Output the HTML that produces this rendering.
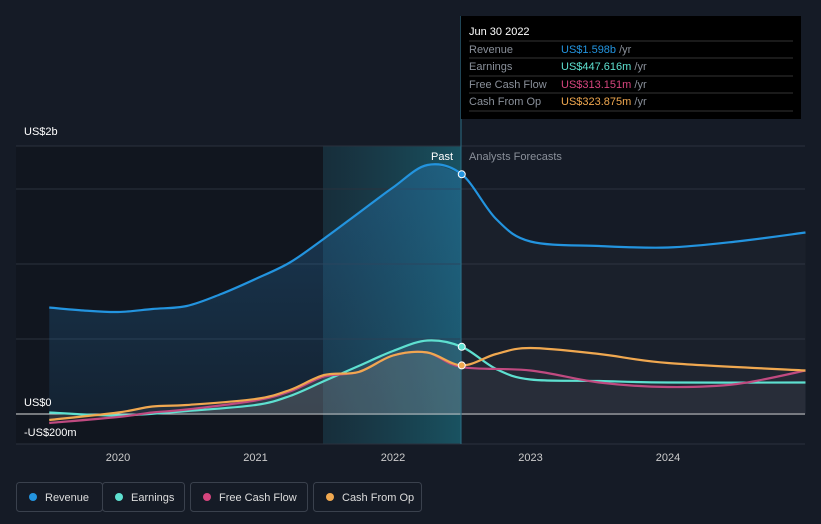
<!DOCTYPE html>
<html><head><meta charset="utf-8"><style>
body{margin:0;background:#151b26;font-family:"Liberation Sans",sans-serif;}
svg{display:block}
</style></head><body>
<svg width="821" height="524">
<defs>
<linearGradient id="hl" x1="0" y1="0" x2="1" y2="0"><stop offset="0" stop-color="#1a4a5a" stop-opacity="0.4"/><stop offset="1" stop-color="#1b6a7a" stop-opacity="0.7"/></linearGradient>
<linearGradient id="rf" x1="0" y1="0" x2="0" y2="1"><stop offset="0" stop-color="#2a7fbf" stop-opacity="0.35"/><stop offset="1" stop-color="#2a7fbf" stop-opacity="0.12"/></linearGradient>
</defs>
<rect x="16" y="146" width="307" height="298" fill="#11161f"/>
<rect x="323" y="146" width="138" height="298" fill="url(#hl)"/>
<g id="grid"></g>
<g id="fills"></g>
<g id="lines"></g>
<line x1="461" y1="16" x2="461" y2="444" stroke="#2a6f85" stroke-width="1"/>
<text x="453" y="160" fill="#fff" font-size="11" text-anchor="end">Past</text>
<text x="469" y="160" fill="#8a909a" font-size="11">Analysts Forecasts</text>
<text x="24" y="135" fill="#fff" font-size="11">US$2b</text>
<text x="24" y="406" fill="#fff" font-size="11">US$0</text>
<text x="24" y="436" fill="#fff" font-size="11">-US$200m</text>
<g id="xt"></g>
<g id="dots"></g>
<g>
<rect x="461" y="16" width="340" height="103" fill="#000"/>
<text x="469" y="35" fill="#fff" font-size="11">Jun 30 2022</text>
<g stroke="#333" stroke-width="1"><line x1="469" x2="793" y1="41" y2="41"/><line x1="469" x2="793" y1="58" y2="58"/><line x1="469" x2="793" y1="76" y2="76"/><line x1="469" x2="793" y1="93" y2="93"/><line x1="469" x2="793" y1="111" y2="111"/></g>
<g font-size="11" fill="#8a909a"><text x="469" y="53">Revenue</text><text x="469" y="70">Earnings</text><text x="469" y="88">Free Cash Flow</text><text x="469" y="105">Cash From Op</text></g>
<g font-size="11"><text x="561" y="53"><tspan fill="#2394df">US$1.598b</tspan><tspan fill="#8a909a"> /yr</tspan></text>
<text x="561" y="70"><tspan fill="#5ee0d0">US$447.616m</tspan><tspan fill="#8a909a"> /yr</tspan></text>
<text x="561" y="88"><tspan fill="#d6457e">US$313.151m</tspan><tspan fill="#8a909a"> /yr</tspan></text>
<text x="561" y="105"><tspan fill="#f0a850">US$323.875m</tspan><tspan fill="#8a909a"> /yr</tspan></text></g>
</g>
<g id="legend" font-size="11" fill="#ddd"></g>
</svg>
<script>
const NS="http://www.w3.org/2000/svg";
const revX=[2019.5,2019.75,2020,2020.25,2020.5,2020.75,2021,2021.25,2021.5,2021.75,2022,2022.25,2022.5,2022.75,2023,2023.5,2024,2024.5,2025];
const revV=[0.71,0.69,0.68,0.70,0.72,0.80,0.90,1.01,1.17,1.34,1.51,1.66,1.598,1.30,1.15,1.12,1.11,1.15,1.21];
const earnX=[2019.5,2020,2020.5,2021,2021.25,2021.5,2021.75,2022,2022.25,2022.5,2022.75,2023,2023.5,2024,2025];
const earnV=[0.01,-0.01,0.02,0.06,0.12,0.22,0.32,0.42,0.49,0.448,0.30,0.23,0.22,0.21,0.21];
const fcfX=[2019.5,2020,2020.25,2020.5,2021,2021.25,2021.5,2021.75,2022,2022.25,2022.5,2023,2023.5,2024,2024.5,2025];
const fcfV=[-0.06,-0.02,0.01,0.03,0.09,0.15,0.25,0.28,0.39,0.41,0.313,0.29,0.21,0.18,0.20,0.29];
const cfoX=[2019.5,2020,2020.25,2020.5,2021,2021.25,2021.5,2021.75,2022,2022.25,2022.5,2022.75,2023,2023.5,2024,2025];
const cfoV=[-0.04,0.01,0.05,0.06,0.10,0.16,0.26,0.28,0.39,0.41,0.324,0.40,0.44,0.40,0.34,0.29];
const yTicks=[-0.2,0,0.5,1,1.5];
const xTicks=[2020,2021,2022,2023,2024];
const X=t=>118+(t-2020)*137.5, Y=v=>414-v*150, PAST=2022.5;
function mk(tag,a,p){const e=document.createElementNS(NS,tag);for(const k in a)e.setAttribute(k,a[k]);(p||document.querySelector('svg')).appendChild(e);return e;}
function path(pts){let d="M"+pts[0][0]+","+pts[0][1];for(let i=0;i<pts.length-1;i++){const p0=pts[i-1]||pts[i],p1=pts[i],p2=pts[i+1],p3=pts[i+2]||p2;const c1=[p1[0]+(p2[0]-p0[0])/6,p1[1]+(p2[1]-p0[1])/6],c2=[p2[0]-(p3[0]-p1[0])/6,p2[1]-(p3[1]-p1[1])/6];d+=`C${c1},${c2},${p2}`;}return d;}
const grid=document.getElementById('grid');
yTicks.concat([2]).forEach(v=>{const l=mk('line',{x1:16,x2:805,y1:Y(v)-(v==2?154:0)+ (v==2?154-268+300:0),y2:0,stroke:v==0?'#ddd':'#2a313d','stroke-width':1},grid);l.setAttribute('y1',v==2?146:Y(v));l.setAttribute('y2',v==2?146:Y(v));

});
const xt=document.getElementById('xt');
xTicks.forEach(t=>{const e=mk('text',{x:X(t),y:461,fill:'#ccc','font-size':11,'text-anchor':'middle'},xt);e.textContent=t;

});
const series=[["revenue",revX,revV,"#2394df"],["earnings",earnX,earnV,"#5ee0d0"],["free-cash-flow",fcfX,fcfV,"#c04a80"],["cash-from-op",cfoX,cfoV,"#f0a850"]];
const fills=document.getElementById('fills'),lines=document.getElementById('lines'),dots=document.getElementById('dots');
series.forEach(([n,xs,vs,c],i)=>{const pts=xs.map((t,j)=>[X(t),Y(vs[j])]);const past=pts.filter((p,j)=>xs[j]<=PAST);const fut=pts.filter((p,j)=>xs[j]>=PAST);
const f=mk('path',{d:path(past)+`L${past[past.length-1][0]},${Y(0)}L${past[0][0]},${Y(0)}Z`,fill:i==0?'url(#rf)':'rgba(150,150,150,0.12)'},fills);


const g=mk('path',{d:path(fut)+`L${fut[fut.length-1][0]},${Y(0)}L${fut[0][0]},${Y(0)}Z`,fill:'rgba(120,120,130,0.06)'},fills);


const l=mk('path',{d:path(pts),fill:'none',stroke:c,'stroke-width':2.2},lines);


if(i!=2){const j=xs.indexOf(PAST);const d=mk('circle',{cx:X(PAST),cy:Y(vs[j]),r:3.5,fill:c,stroke:'#fff','stroke-width':1},dots);

}
});
const leg=document.getElementById('legend');
[["Revenue",16,86,"#2394df"],["Earnings",102,82,"#5ee0d0"],["Free Cash Flow",190,117,"#d6457e"],["Cash From Op",313,108,"#f0a850"]].forEach(([t,x,w,c])=>{const g=mk('g',{},leg);


mk('rect',{x:x+0.5,y:482.5,width:w,height:29,rx:3,fill:'none',stroke:'#3a414d'},g);mk('circle',{cx:x+17,cy:497,r:4,fill:c},g);const e=mk('text',{x:x+29,y:501,fill:'#ddd'},g);e.textContent=t;});
</script>
</body></html>
